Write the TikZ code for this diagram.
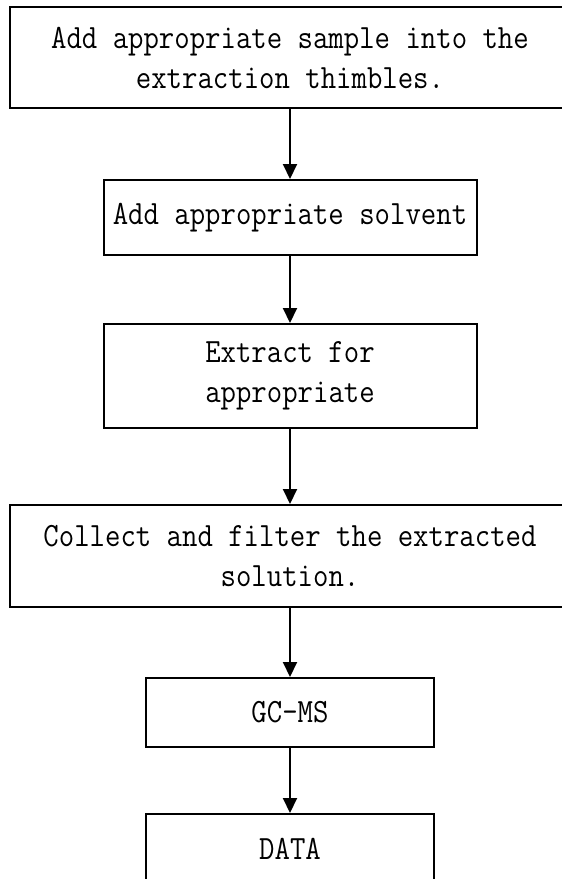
\documentclass[tikz,border=0pt]{standalone}
\usepackage{fontspec}
\setmonofont[FakeStretch=0.88]{Latin Modern Mono}
\usepackage{tikz}
\usetikzlibrary{arrows.meta,positioning}
\tikzset{
    %Define standard arrow tip
    >={Triangle[length=15pt,width=14pt]},
    %Define style for boxes
    stepbox/.style={
           rectangle,
           draw=black, line width=2pt,
           inner sep=0pt,
           align=center,
           font=\ttfamily\fontsize{34}{40}\selectfont},
    % Define arrow style
    pil/.style={
           ->,
           line width=2pt}
}

\begin{document}
\begin{tikzpicture}[x=1pt,y=1pt]
\useasboundingbox (0,0) rectangle (562,-879);
\clip (0,0) rectangle (562,-879);
\node[stepbox, minimum width=560pt, minimum height=101pt](1) at (290,-57.5){Add appropriate sample into the\\extraction thimbles.};
\node[stepbox, minimum width=373pt, minimum height=75pt, below=70pt of 1](2){Add appropriate solvent};
\node[stepbox, minimum width=373pt, minimum height=104pt, below=67pt of 2](3){Extract for\\appropriate};
\node[stepbox, minimum width=560pt, minimum height=102pt, below=75pt of 3](4){Collect and filter the extracted\\solution.};
\node[stepbox, minimum width=288pt, minimum height=69pt, below=69pt of 4](5){GC-MS};
\node[stepbox, minimum width=288pt, minimum height=70pt, below=65pt of 5](6){DATA};
\path[pil]
	(1) edge (2)
	(2) edge (3)
	(3) edge (4)
	(4) edge (5)
	(5) edge (6);
\end{tikzpicture}
\end{document}
